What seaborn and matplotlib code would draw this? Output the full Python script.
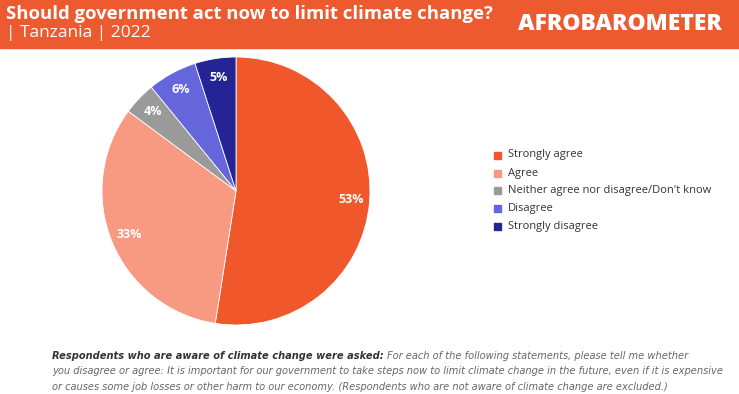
import matplotlib
matplotlib.use("Agg")
import matplotlib.pyplot as plt
import seaborn as sns
from matplotlib.patches import Rectangle

sns.set_theme(style="white")
plt.rcParams["font.family"] = ["Open Sans", "DejaVu Sans"]

categories = ["Strongly agree", "Agree", "Neither agree nor disagree/Don't know",
              "Disagree", "Strongly disagree"]
values = [53, 33, 4, 6, 5]
colors = ["#F0582B", "#F79A81", "#9A9A9A", "#6565DC", "#242494"]

W, H = 739, 394
fig = plt.figure(figsize=(W / 100, H / 100), dpi=100)
fig.patch.set_facecolor("white")

# header band
fig.add_artist(Rectangle((0, 1 - 48 / H), 1, 48 / H, transform=fig.transFigure,
                         color="#EE5A30", zorder=0))
fig.text(6 / W, 1 - 14 / H, "Should government act now to limit climate change?",
         color="white", fontsize=13.3, fontweight="bold", va="center", ha="left")
fig.text(6 / W, 1 - 33 / H, "| Tanzania | 2022", color="white", fontsize=12.5,
         va="center", ha="left")
fig.text(722 / W, 1 - 24 / H, "AFROBAROMETER", color="white", fontsize=16.5,
         fontweight="heavy", va="center", ha="right")

# pie
cx, cy, r = 236, 191, 134
ax = fig.add_axes([(cx - r) / W, (H - cy - r) / H, 2 * r / W, 2 * r / H])
wedges, texts, autotexts = ax.pie(
    values, colors=colors, startangle=90, counterclock=False,
    autopct=lambda p: "", pctdistance=0.86,
    wedgeprops=dict(edgecolor="white", linewidth=0.6),
)
for t, v in zip(autotexts, values):
    t.set_text(f"{v}%")
    t.set_color("white")
    t.set_fontsize(9)
    t.set_fontweight("bold")
ax.set_xlim(-1, 1)
ax.set_ylim(-1, 1)
ax.set_aspect("equal")
ax.axis("off")

# legend
leg_y = [155, 173, 190, 208, 226]
for cat, col, y in zip(categories, colors, leg_y):
    fig.add_artist(Rectangle((494 / W, 1 - (y + 3.5) / H), 7 / W, 7 / H,
                             transform=fig.transFigure, color=col))
    fig.text(508 / W, 1 - y / H, cat, fontsize=8, color="#333333",
             va="center", ha="left")

# footnote
fcol = "#666666"
ffam = ["DejaVu Sans"]
line2 = ("you disagree or agree: It is important for our government to take steps now to limit "
         "climate change in the future, even if it is expensive")
probe = fig.text(0, 0, line2, fontsize=10, style="italic", family=ffam)
fig.canvas.draw()
fs = 10 * 668 / probe.get_window_extent().width
probe.remove()

t1 = fig.text(52 / W, 1 - 356 / H, "Respondents who are aware of climate change were asked:",
              fontsize=fs, style="italic", fontweight="bold", color="#333333",
              va="center", ha="left", family=ffam)
fig.canvas.draw()
bb = t1.get_window_extent()
fig.text((bb.x1 + 3) / W, 1 - 356 / H,
         "For each of the following statements, please tell me whether",
         fontsize=fs, style="italic", color=fcol, va="center", ha="left", family=ffam)
fig.text(52 / W, 1 - 371 / H, line2,
         fontsize=fs, style="italic", color=fcol, va="center", ha="left", family=ffam)
fig.text(52 / W, 1 - 387 / H,
         "or causes some job losses or other harm to our economy. (Respondents who are not "
         "aware of climate change are excluded.)",
         fontsize=fs, style="italic", color=fcol, va="center", ha="left", family=ffam)

fig.savefig("out.png", dpi=100)
